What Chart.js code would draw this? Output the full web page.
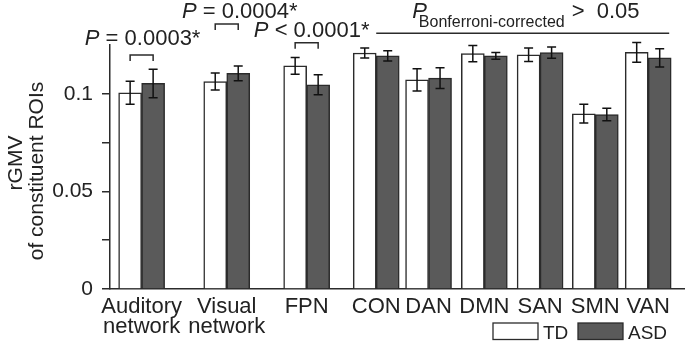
<!DOCTYPE html>
<html>
<head>
<meta charset="utf-8">
<script src="https://cdn.jsdelivr.net/npm/chart.js@4/dist/chart.umd.min.js"></script>
<style>
  body { margin: 0; background: #fff; }
  #wrap { width: 685px; height: 342px; }
</style>
</head>
<body>
<div id="wrap"><canvas id="chart" width="685" height="342"></canvas></div>
<script>
// --- data ---
const categories = [['Auditory', 'network'], ['Visual', 'network'], 'FPN', 'CON', 'DAN', 'DMN', 'SAN', 'SMN', 'VAN'];
const tdMean  = [0.1005, 0.1063, 0.1143, 0.1209, 0.1071, 0.1206, 0.1200, 0.0898, 0.1212];
const tdErr   = [0.0059, 0.0043, 0.0043, 0.0026, 0.0057, 0.0042, 0.0035, 0.0048, 0.0051];
const asdMean = [0.1053, 0.1105, 0.1046, 0.1194, 0.1080, 0.1194, 0.1211, 0.0894, 0.1184];
const asdErr  = [0.0073, 0.0038, 0.0051, 0.0026, 0.0053, 0.0017, 0.0029, 0.0032, 0.0047];
const yTicks = [0, 0.025, 0.05, 0.075, 0.1];
const yTickLabels = ['0', '', '0.05', '', '0.1'];

// significance brackets (group index, text, bracket height in y units)
const pairTests = [
  { group: 0, text: '= 0.0003*', level: 0.1199 },
  { group: 1, text: '= 0.0004*', level: 0.1358 },
  { group: 2, text: '< 0.0001*', level: 0.1262 },
];
const groupTest = { from: 3, to: 8, sub: 'Bonferroni-corrected', text: '>  0.05', level: 0.1310 };

// layout only: where each group sits on the x axis (figure spacing is uneven)
const groupSlot = [0.55, 2.03, 3.42, 4.63, 5.54, 6.51, 7.48, 8.44, 9.36];
const textOffset = [{ dx: 1, dy: -10 }, { dx: 13, dy: -6 }, { dx: 5, dy: -5.5 }];

const FONT = '"Liberation Sans", Arial, Helvetica, sans-serif';
const INK = '#222';
const AXIS = '#2b2b2b';
const TD_FILL = '#ffffff';
const ASD_FILL = '#5a5a5a';

Chart.defaults.font.family = FONT;
Chart.defaults.color = INK;

const toPoints = (vals) => vals.map((v, i) => ({ x: groupSlot[i], y: v }));

function drawP(ctx, x, y, rest, size) {
  // italic P followed by upright text, x is the left edge
  ctx.font = `italic ${size}px ${FONT}`;
  ctx.fillText('P', x, y);
  const pw = ctx.measureText('P').width;
  ctx.font = `${size}px ${FONT}`;
  ctx.fillText(rest, x + pw, y);
}

function widthP(ctx, rest, size) {
  ctx.font = `italic ${size}px ${FONT}`;
  const pw = ctx.measureText('P').width;
  ctx.font = `${size}px ${FONT}`;
  return pw + ctx.measureText(rest).width;
}

const extras = {
  id: 'extras',
  afterDatasetsDraw(chart) {
    const ctx = chart.ctx;
    const yScale = chart.scales.y;
    const errs = [tdErr, asdErr];
    const means = [tdMean, asdMean];
    ctx.save();
    ctx.strokeStyle = '#111';
    ctx.lineWidth = 1.5;
    for (let d = 0; d < 2; d++) {
      const meta = chart.getDatasetMeta(d);
      meta.data.forEach((bar, i) => {
        const hi = yScale.getPixelForValue(means[d][i] + errs[d][i]);
        const lo = yScale.getPixelForValue(means[d][i] - errs[d][i]);
        ctx.beginPath();
        ctx.moveTo(bar.x, hi); ctx.lineTo(bar.x, lo);
        ctx.moveTo(bar.x - 4.5, hi); ctx.lineTo(bar.x + 4.5, hi);
        ctx.moveTo(bar.x - 4.5, lo); ctx.lineTo(bar.x + 4.5, lo);
        ctx.stroke();
      });
    }
    ctx.restore();
  },
  afterDraw(chart) {
    const ctx = chart.ctx;
    const yScale = chart.scales.y;
    const area = chart.chartArea;
    const tdMeta = chart.getDatasetMeta(0);
    const asdMeta = chart.getDatasetMeta(1);
    ctx.save();
    ctx.fillStyle = INK;
    ctx.strokeStyle = AXIS;
    ctx.lineWidth = 1.5;
    ctx.textBaseline = 'alphabetic';
    ctx.textAlign = 'left';

    // pairwise brackets
    pairTests.forEach((t, k) => {
      const x1 = tdMeta.data[t.group].x;
      const x2 = asdMeta.data[t.group].x;
      const y = yScale.getPixelForValue(t.level);
      ctx.beginPath();
      ctx.moveTo(x1, y + 6); ctx.lineTo(x1, y); ctx.lineTo(x2, y); ctx.lineTo(x2, y + 6);
      ctx.stroke();
      const w = widthP(ctx, ' ' + t.text, 22);
      const cx = (x1 + x2) / 2 + textOffset[k].dx;
      drawP(ctx, cx - w / 2, y + textOffset[k].dy, ' ' + t.text, 22);
    });

    // line over the remaining networks
    const lx1 = tdMeta.data[groupTest.from].x + tdMeta.data[groupTest.from].width / 2;
    const lastBar = asdMeta.data[groupTest.to];
    const lx2 = lastBar.x + lastBar.width / 2 - 2;
    const ly = yScale.getPixelForValue(groupTest.level);
    ctx.beginPath();
    ctx.moveTo(lx1, ly); ctx.lineTo(lx2, ly);
    ctx.stroke();
    let px = lx1 + 36;
    const py = ly - 15;
    ctx.font = `italic 22px ${FONT}`;
    ctx.fillText('P', px, py);
    const pw = ctx.measureText('P').width;
    ctx.font = `16px ${FONT}`;
    const sx = px + pw * 0.45;
    ctx.fillText(groupTest.sub, sx, py + 8.7);
    const sw = ctx.measureText(groupTest.sub).width;
    ctx.font = `22px ${FONT}`;
    ctx.fillText(groupTest.text, sx + sw + 7, py);

    // y axis title, two rotated lines
    const cy = (area.top + area.bottom) / 2;
    ctx.save();
    ctx.translate(16, cy - 4);
    ctx.rotate(-Math.PI / 2);
    ctx.textAlign = 'center';
    ctx.textBaseline = 'middle';
    ctx.font = `21px ${FONT}`;
    ctx.fillText('rGMV', 0, 0);
    ctx.restore();
    ctx.save();
    ctx.translate(37, cy + 4);
    ctx.rotate(-Math.PI / 2);
    ctx.textAlign = 'center';
    ctx.textBaseline = 'middle';
    ctx.font = `21px ${FONT}`;
    ctx.fillText('of constituent ROIs', 0, 0);
    ctx.restore();

    // legend, bottom right
    const items = [
      { label: chart.data.datasets[0].label, fill: TD_FILL, x: 493 },
      { label: chart.data.datasets[1].label, fill: ASD_FILL, x: 578 },
    ];
    ctx.font = `19px ${FONT}`;
    items.forEach((it) => {
      ctx.fillStyle = it.fill;
      ctx.fillRect(it.x, 323, 45, 16.5);
      ctx.strokeStyle = AXIS;
      ctx.lineWidth = 1.3;
      ctx.strokeRect(it.x, 323, 45, 16.5);
      ctx.fillStyle = INK;
      ctx.fillText(it.label, it.x + 50, 338.5);
    });
    ctx.restore();
  }
};

new Chart(document.getElementById('chart'), {
  type: 'bar',
  data: {
    datasets: [
      {
        label: 'TD',
        data: toPoints(tdMean),
        backgroundColor: TD_FILL,
        borderColor: AXIS,
        borderWidth: 1.5,
      },
      {
        label: 'ASD',
        data: toPoints(asdMean),
        backgroundColor: ASD_FILL,
        borderColor: AXIS,
        borderWidth: 1.5,
      },
    ]
  },
  plugins: [extras],
  options: {
    responsive: false,
    animation: false,
    barThickness: 23,
    layout: { padding: { top: 45, right: 0, bottom: 0, left: 0 } },
    plugins: {
      legend: { display: false },
      tooltip: { enabled: false },
    },
    scales: {
      x: {
        type: 'linear',
        min: 0,
        max: 10,
        offset: false,
        afterBuildTicks: (scale) => {
          scale.ticks = groupSlot.map((v) => ({ value: v }));
        },
        afterFit: (scale) => { scale.height = 53; },
        grid: { display: false, drawTicks: false },
        border: { display: true, color: AXIS, width: 1.5 },
        ticks: {
          autoSkip: false,
          maxRotation: 0,
          padding: 8,
          color: INK,
          font: { size: 22, lineHeight: 0.92 },
          callback: (value, index) => categories[index],
        },
      },
      y: {
        min: 0,
        max: 0.125,
        afterBuildTicks: (scale) => {
          scale.ticks = yTicks.map((v) => ({ value: v }));
        },
        afterFit: (scale) => { scale.width = 110; },
        grid: { drawOnChartArea: false, drawTicks: true, tickLength: 8, color: AXIS, lineWidth: 1.5 },
        border: { display: true, color: AXIS, width: 1.5 },
        ticks: {
          padding: 9,
          color: INK,
          font: { size: 21 },
          callback: (value, index) => yTickLabels[index],
        },
      },
    },
  },
});
</script>
</body>
</html>
